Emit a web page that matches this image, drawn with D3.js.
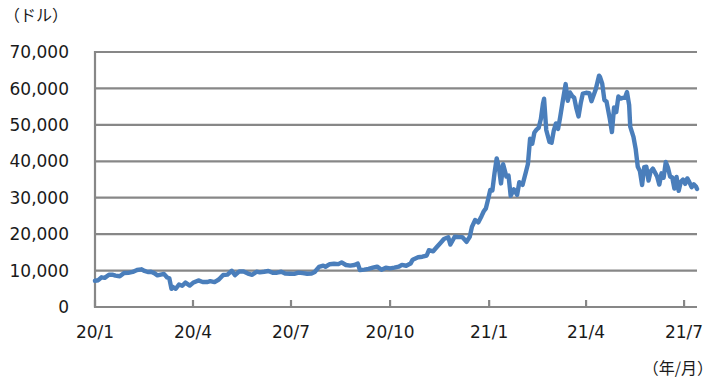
<!DOCTYPE html>
<html><head><meta charset="utf-8">
<script src="https://cdn.jsdelivr.net/npm/d3@7"></script>
<style>
html,body{margin:0;padding:0;background:#fff;}
text{font-family:"DejaVu Sans",Verdana,sans-serif;fill:#1a1a1a;}
.jp{font-family:"Noto Sans CJK JP",sans-serif;}
</style></head><body>
<svg id="c" width="714" height="382"></svg>
<script>
const dates = ["2020-01-01","2020-01-04","2020-01-07","2020-01-10","2020-01-14","2020-01-17","2020-01-20","2020-01-24","2020-01-28","2020-02-01","2020-02-05","2020-02-09","2020-02-13","2020-02-16","2020-02-19","2020-02-22","2020-02-25","2020-02-28","2020-03-02","2020-03-05","2020-03-08","2020-03-10","2020-03-12","2020-03-13","2020-03-16","2020-03-19","2020-03-22","2020-03-25","2020-03-29","2020-04-01","2020-04-06","2020-04-10","2020-04-14","2020-04-17","2020-04-21","2020-04-25","2020-04-29","2020-05-03","2020-05-07","2020-05-10","2020-05-14","2020-05-18","2020-05-22","2020-05-26","2020-05-30","2020-06-02","2020-06-06","2020-06-10","2020-06-14","2020-06-18","2020-06-22","2020-06-26","2020-06-30","2020-07-04","2020-07-08","2020-07-12","2020-07-16","2020-07-20","2020-07-23","2020-07-27","2020-07-31","2020-08-02","2020-08-06","2020-08-10","2020-08-14","2020-08-17","2020-08-21","2020-08-25","2020-08-29","2020-09-01","2020-09-03","2020-09-07","2020-09-11","2020-09-15","2020-09-19","2020-09-23","2020-09-27","2020-10-01","2020-10-05","2020-10-09","2020-10-12","2020-10-16","2020-10-20","2020-10-22","2020-10-27","2020-10-31","2020-11-04","2020-11-06","2020-11-10","2020-11-13","2020-11-17","2020-11-20","2020-11-24","2020-11-26","2020-11-30","2020-12-03","2020-12-07","2020-12-11","2020-12-14","2020-12-16","2020-12-19","2020-12-22","2020-12-25","2020-12-27","2020-12-29","2020-12-31","2021-01-02","2021-01-04","2021-01-06","2021-01-08","2021-01-10","2021-01-12","2021-01-14","2021-01-17","2021-01-19","2021-01-21","2021-01-24","2021-01-27","2021-01-29","2021-02-01","2021-02-04","2021-02-06","2021-02-08","2021-02-10","2021-02-12","2021-02-14","2021-02-16","2021-02-18","2021-02-20","2021-02-21","2021-02-23","2021-02-26","2021-02-28","2021-03-02","2021-03-04","2021-03-06","2021-03-08","2021-03-10","2021-03-13","2021-03-15","2021-03-17","2021-03-19","2021-03-21","2021-03-23","2021-03-25","2021-03-27","2021-03-29","2021-04-01","2021-04-04","2021-04-06","2021-04-08","2021-04-10","2021-04-13","2021-04-14","2021-04-16","2021-04-18","2021-04-20","2021-04-23","2021-04-25","2021-04-27","2021-04-29","2021-05-01","2021-05-03","2021-05-05","2021-05-07","2021-05-09","2021-05-11","2021-05-12","2021-05-15","2021-05-17","2021-05-19","2021-05-21","2021-05-23","2021-05-25","2021-05-27","2021-05-29","2021-05-31","2021-06-02","2021-06-04","2021-06-06","2021-06-08","2021-06-10","2021-06-12","2021-06-14","2021-06-16","2021-06-18","2021-06-20","2021-06-22","2021-06-24","2021-06-26","2021-06-28","2021-06-30","2021-07-02","2021-07-04","2021-07-06","2021-07-08","2021-07-10","2021-07-12","2021-07-13"];
const prices = [7200,7350,8150,8000,8850,8900,8630,8450,9350,9380,9620,10150,10350,9900,9600,9680,9300,8700,8900,9100,8100,7900,4970,5560,5000,6190,5830,6690,5880,6640,7300,6870,6850,7100,6850,7550,8790,8900,9950,8750,9790,9730,9170,8840,9700,9520,9670,9890,9380,9410,9680,9150,9140,9090,9430,9290,9130,9160,9600,11000,11350,11050,11750,11880,11780,12250,11530,11350,11540,11920,10160,10270,10450,10790,11080,10240,10790,10620,10800,11060,11550,11320,11920,12990,13650,13800,14130,15590,15300,16330,17650,18680,19170,17150,19300,19220,19190,17900,19270,22000,23870,23240,25000,26270,27080,29500,32130,31970,36770,40800,38350,33920,39190,35790,36060,30500,32290,30800,34270,33540,36930,39260,46200,44810,47900,48700,49200,51600,55900,57200,48600,45300,45100,48400,50400,48900,52200,55900,61200,56600,58900,58000,57400,54500,52300,55900,58600,58800,58700,56500,58100,59800,63500,63100,61300,56800,56400,51700,48000,54800,53500,57800,57200,57400,57400,59000,55400,49500,46700,43500,38500,37300,33500,38400,38500,34700,37300,38000,36900,35800,33600,36700,35500,39800,38300,35800,35600,32500,35700,31900,34400,35000,33800,35300,34200,32900,33700,33100,32400];
const yTicks = [0,10000,20000,30000,40000,50000,60000,70000];
const xTickDates = ["2020-01-01","2020-04-01","2020-07-01","2020-10-01","2021-01-01","2021-04-01","2021-07-01"];
const xTickLabels = ["20/1","20/4","20/7","20/10","21/1","21/4","21/7"];
const yUnit = "（ドル）";
const xUnit = "（年/月）";

const parse = d3.utcParse("%Y-%m-%d");
const data = dates.map((d,i)=>({date:parse(d), v:prices[i]}));
const svg = d3.select("#c");
const L=95, R=697, T=52, B=307;
const x = d3.scaleUtc().domain([parse("2020-01-01"), parse("2021-07-13")]).range([L,R]);
const y = d3.scaleLinear().domain([0,70000]).range([B,T]);

// grid
svg.append("g").selectAll("line").data(yTicks.filter(t=>t>0)).join("line")
  .attr("x1",L).attr("x2",R).attr("y1",d=>y(d)).attr("y2",d=>y(d))
  .attr("stroke","#878787").attr("stroke-width",2.2);

// y axis line
svg.append("line").attr("x1",L).attr("x2",L).attr("y1",T-1).attr("y2",B+1)
  .attr("stroke","#878787").attr("stroke-width",2.2);
// x axis line
svg.append("line").attr("x1",L-1).attr("x2",R).attr("y1",B).attr("y2",B)
  .attr("stroke","#878787").attr("stroke-width",2.2);
// x ticks (inward)
svg.append("g").selectAll("line").data(xTickDates).join("line")
  .attr("x1",d=>x(parse(d))).attr("x2",d=>x(parse(d))).attr("y1",B).attr("y2",B-7)
  .attr("stroke","#878787").attr("stroke-width",2.2);

// y labels
svg.append("g").selectAll("text").data(yTicks).join("text")
  .attr("x",69).attr("y",d=>y(d)).attr("dy","0.36em").attr("text-anchor","end")
  .attr("font-size",17).text(d=>d3.format(",")(d));
// x labels
svg.append("g").selectAll("text").data(xTickDates).join("text")
  .attr("x",(d)=>x(parse(d))).attr("y",338).attr("text-anchor","middle")
  .attr("font-size",17).text((d,i)=>xTickLabels[i]);

svg.append("text").attr("class","jp").attr("x",4).attr("y",21).attr("font-size",16).text(yUnit);
svg.append("text").attr("class","jp").attr("x",713).attr("y",374).attr("text-anchor","end").attr("font-size",16).text(xUnit);

// line
svg.append("path").datum(data)
  .attr("fill","none").attr("stroke","#4a7ebb").attr("stroke-width",4.4)
  .attr("stroke-linejoin","round").attr("stroke-linecap","round")
  .attr("d", d3.line().x(d=>x(d.date)).y(d=>y(d.v)));
</script></body></html>
